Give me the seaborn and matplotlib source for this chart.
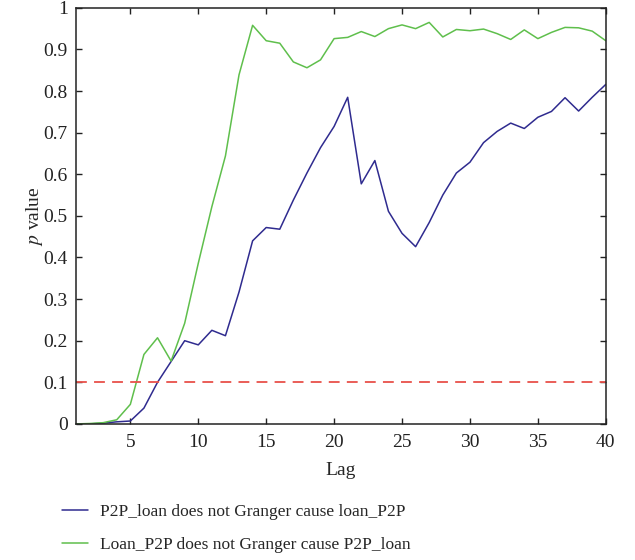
import numpy as np
import pandas as pd
import matplotlib
matplotlib.use("Agg")
import matplotlib.pyplot as plt
import seaborn as sns

# ---------------- DATA ----------------
lags = list(range(1, 41))
p2p_loan = [0.0, 0.0, 0.002, 0.005, 0.007, 0.038, 0.10, 0.15, 0.20, 0.19,
            0.225, 0.212, 0.317, 0.44, 0.472, 0.468, 0.538, 0.603, 0.664, 0.715,
            0.785, 0.577, 0.633, 0.511, 0.458, 0.426, 0.484, 0.55, 0.603, 0.629,
            0.676, 0.703, 0.723, 0.71, 0.737, 0.751, 0.784, 0.752, 0.785, 0.816]
loan_p2p = [0.0, 0.001, 0.003, 0.01, 0.047, 0.167, 0.207, 0.151, 0.242, 0.386,
            0.522, 0.644, 0.839, 0.958, 0.921, 0.915, 0.870, 0.856, 0.875, 0.926,
            0.929, 0.943, 0.931, 0.950, 0.959, 0.950, 0.965, 0.930, 0.948, 0.945,
            0.949, 0.938, 0.924, 0.947, 0.926, 0.941, 0.953, 0.952, 0.944, 0.921]
series_names = ["P2P_loan does not Granger cause loan_P2P",
                "Loan_P2P does not Granger cause P2P_loan"]
threshold = 0.1

df = pd.DataFrame({
    "Lag": lags * 2,
    "p": p2p_loan + loan_p2p,
    "series": [series_names[0]] * len(lags) + [series_names[1]] * len(lags),
})

# ---------------- PLOT ----------------
sns.set_style("ticks")
plt.rcParams["font.family"] = ["Liberation Serif", "DejaVu Serif"]
plt.rcParams["mathtext.fontset"] = "stix"

fig = plt.figure(figsize=(6.35, 5.6), dpi=100)
ax = fig.add_axes([0.1197, 0.243, 0.8343, 0.743])

sns.lineplot(data=df, x="Lag", y="p", hue="series",
             palette=["#2f2b8f", "#5fbf4c"], linewidth=1.1, ax=ax)
ax.axhline(threshold, color="#e8514a", linestyle=(0, (6, 4)), linewidth=1.3)

ax.set_xlim(1, 40)
ax.set_ylim(0, 1)
ax.set_xticks(range(5, 41, 5))
ax.set_yticks(np.arange(0, 1.01, 0.1))
ax.set_yticklabels(["0"] + [f"{v:.1f}" for v in np.arange(0.1, 0.95, 0.1)] + ["1"])
ax.tick_params(direction="in", top=True, right=True, length=4, width=1,
               labelsize=14, colors="#222222")
ax.tick_params(axis="x", pad=7)
ax.tick_params(axis="y", pad=6)
for s in ax.spines.values():
    s.set_linewidth(1.1)
    s.set_color("#222222")

ax.set_xlabel("Lag", fontsize=14, labelpad=8)
ax.set_ylabel(r"$p$ value", fontsize=14, labelpad=-1)

leg = ax.legend(loc="upper left", bbox_to_anchor=(-0.056, -0.155), frameon=False,
                fontsize=12.5, handlelength=1.5, handletextpad=0.7, labelspacing=0.95)
for line in leg.get_lines():
    line.set_linewidth(1.1)

fig.savefig("out.png", dpi=100)
